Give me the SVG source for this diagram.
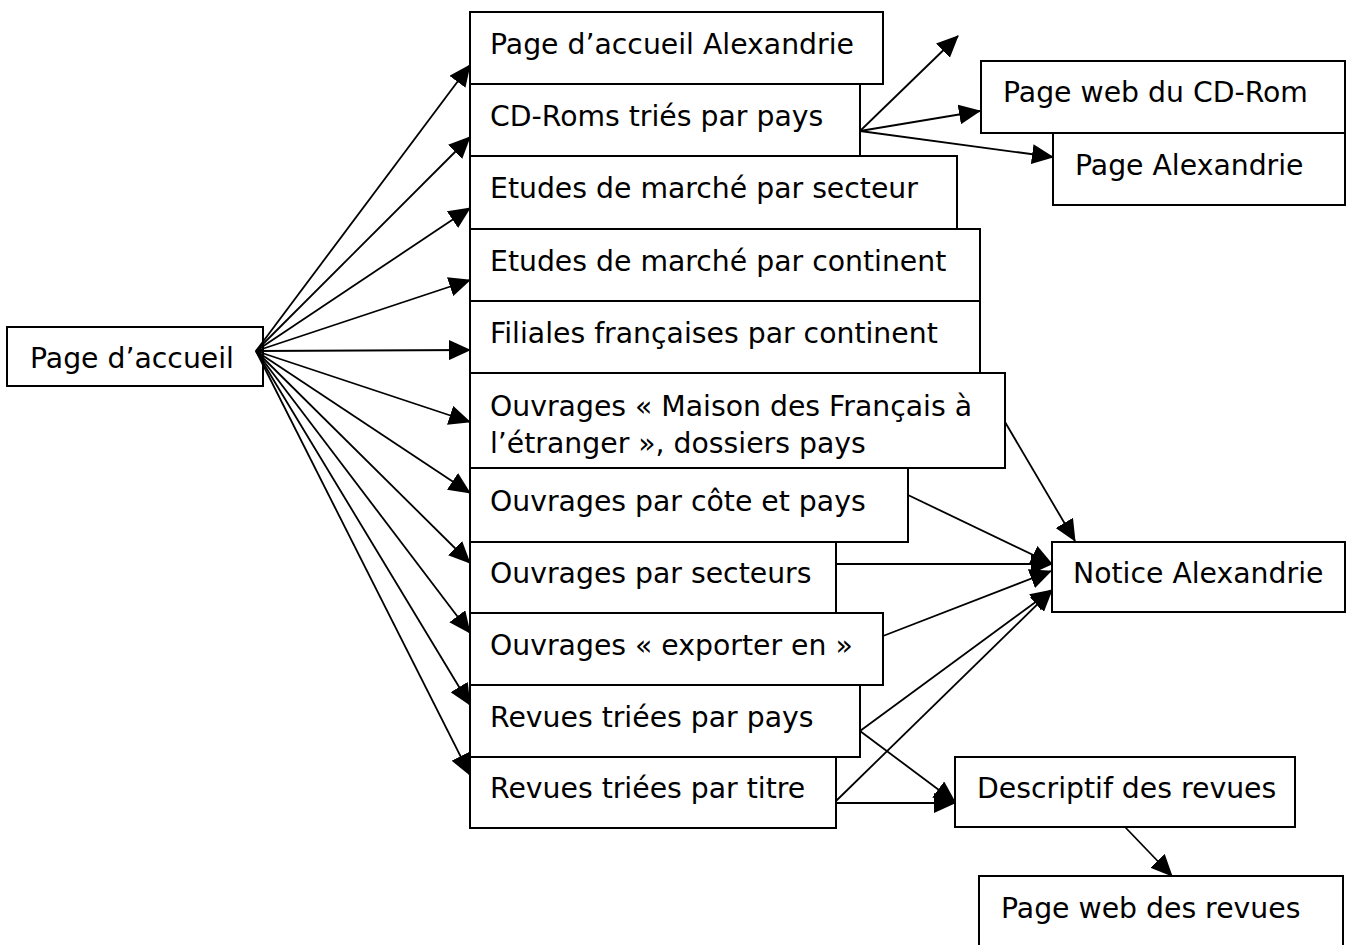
<svg xmlns="http://www.w3.org/2000/svg" width="1352" height="945" viewBox="0 0 1352 945">
<style>
.box{fill:#fff;stroke:#000;stroke-width:2}
.t{font-family:"DejaVu Sans","Liberation Sans",sans-serif;font-size:28.3px;fill:#000}
.c{fill:none;stroke:#000;stroke-width:1.8;marker-end:url(#ah)}
</style>
<defs>
<marker id="ah" viewBox="0 0 22 20" refX="21" refY="10" markerWidth="22" markerHeight="20" markerUnits="userSpaceOnUse" orient="auto">
<path d="M0,0 L22,10 L0,20 Z" fill="#000"/>
</marker>
</defs>
<rect width="1352" height="945" fill="#fff"/>
<g id="n-accueil"><rect class="box" x="7" y="327" width="256" height="59"/><text class="t" x="30" y="368">Page d’accueil</text></g>
<g id="n-alex"><rect class="box" x="470" y="12" width="413" height="72"/><text class="t" x="490" y="54">Page d’accueil Alexandrie</text></g>
<g id="n-cdroms"><rect class="box" x="470" y="84" width="390" height="72"/><text class="t" x="490" y="126">CD-Roms triés par pays</text></g>
<g id="n-etsect"><rect class="box" x="470" y="156" width="487" height="73"/><text class="t" x="490" y="198">Etudes de marché par secteur</text></g>
<g id="n-etcont"><rect class="box" x="470" y="229" width="510" height="72"/><text class="t" x="490" y="271">Etudes de marché par continent</text></g>
<g id="n-filiales"><rect class="box" x="470" y="301" width="510" height="72"/><text class="t" x="490" y="343">Filiales françaises par continent</text></g>
<g id="n-maison"><rect class="box" x="470" y="373" width="535" height="95"/><text class="t" x="490" y="416">Ouvrages « Maison des Français à</text><text class="t" x="490" y="453">l’étranger », dossiers pays</text></g>
<g id="n-cote"><rect class="box" x="470" y="468" width="438" height="74"/><text class="t" x="490" y="511">Ouvrages par côte et pays</text></g>
<g id="n-secteurs"><rect class="box" x="470" y="542" width="366" height="71"/><text class="t" x="490" y="583">Ouvrages par secteurs</text></g>
<g id="n-exporter"><rect class="box" x="470" y="613" width="413" height="72"/><text class="t" x="490" y="655">Ouvrages « exporter en »</text></g>
<g id="n-revpays"><rect class="box" x="470" y="685" width="390" height="72"/><text class="t" x="490" y="727">Revues triées par pays</text></g>
<g id="n-revtitre"><rect class="box" x="470" y="757" width="366" height="71"/><text class="t" x="490" y="798">Revues triées par titre</text></g>
<g id="n-webcd"><rect class="box" x="981" y="61" width="364" height="72"/><text class="t" x="1003" y="102">Page web du CD-Rom</text></g>
<g id="n-pagealex"><rect class="box" x="1053" y="133" width="292" height="72"/><text class="t" x="1075" y="175">Page Alexandrie</text></g>
<g id="n-notice"><rect class="box" x="1052" y="542" width="293" height="70"/><text class="t" x="1073" y="583">Notice Alexandrie</text></g>
<g id="n-descr"><rect class="box" x="955" y="757" width="340" height="70"/><text class="t" x="977" y="798">Descriptif des revues</text></g>
<g id="n-webrev"><rect class="box" x="979" y="876" width="364" height="90"/><text class="t" x="1001" y="918">Page web des revues</text></g>
<g id="connectors">
<line class="c" x1="256" y1="351" x2="470" y2="65"/>
<line class="c" x1="256" y1="351" x2="470" y2="137"/>
<line class="c" x1="256" y1="351" x2="470" y2="208"/>
<line class="c" x1="256" y1="351" x2="470" y2="280"/>
<line class="c" x1="256" y1="351" x2="470" y2="350"/>
<line class="c" x1="256" y1="351" x2="470" y2="422"/>
<line class="c" x1="256" y1="351" x2="470" y2="493"/>
<line class="c" x1="256" y1="351" x2="470" y2="563"/>
<line class="c" x1="256" y1="351" x2="470" y2="633"/>
<line class="c" x1="256" y1="351" x2="470" y2="705"/>
<line class="c" x1="256" y1="351" x2="470" y2="775"/>
<line class="c" x1="860" y1="131" x2="958" y2="36"/>
<line class="c" x1="860" y1="131" x2="980" y2="111"/>
<line class="c" x1="860" y1="131" x2="1053" y2="157"/>
<line class="c" x1="1005" y1="422" x2="1075" y2="541"/>
<line class="c" x1="908" y1="495" x2="1052" y2="564"/>
<line class="c" x1="836" y1="564" x2="1052" y2="564"/>
<line class="c" x1="883" y1="636" x2="1051" y2="571"/>
<line class="c" x1="860" y1="731" x2="1052" y2="590"/>
<line class="c" x1="836" y1="801" x2="1052" y2="590"/>
<line class="c" x1="860" y1="731" x2="955" y2="802"/>
<line class="c" x1="836" y1="803" x2="955" y2="803"/>
<line class="c" x1="1125" y1="827" x2="1172" y2="876"/>
</g>
</svg>
